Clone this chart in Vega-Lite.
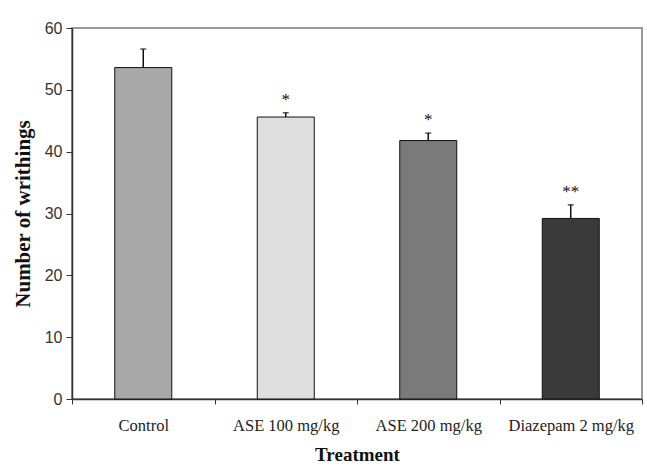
{
  "$schema": "https://vega.github.io/schema/vega-lite/v6.json",
  "autosize": "none",
  "padding": {"left": 72, "top": 28, "right": 5, "bottom": 73},
  "width": 570,
  "height": 371,
  "background": "white",
  "config": {
    "view": {"stroke": "#9a9a9a", "strokeWidth": 2},
    "axis": {"grid": false}
  },
  "data": {
    "values": [
      {"Treatment": "Control", "mean": 53.6, "upper": 56.6, "sig": ""},
      {"Treatment": "ASE 100 mg/kg", "mean": 45.6, "upper": 46.3, "sig": "*"},
      {"Treatment": "ASE 200 mg/kg", "mean": 41.8, "upper": 43.0, "sig": "*"},
      {"Treatment": "Diazepam 2 mg/kg", "mean": 29.2, "upper": 31.4, "sig": "**"}
    ]
  },
  "encoding": {
    "x": {
      "field": "Treatment",
      "type": "nominal",
      "sort": null,
      "scale": {"type": "band", "paddingInner": 0, "paddingOuter": 0},
      "axis": {
        "title": "Treatment",
        "labelAngle": 0,
        "tickBand": "extent",
        "tickSize": 5,
        "tickColor": "#333",
        "domainColor": "#333",
        "domainWidth": 1.5,
        "labelFont": "Liberation Serif",
        "labelFontSize": 16.5,
        "labelColor": "#222",
        "labelPadding": 13,
        "titleFont": "Liberation Serif",
        "titleFontSize": 19,
        "titleFontWeight": "bold",
        "titleColor": "#111",
        "titlePadding": 12
      }
    }
  },
  "layer": [
    {
      "mark": {"type": "bar", "size": 57, "stroke": "#111", "strokeWidth": 1},
      "encoding": {
        "y": {
          "field": "mean",
          "type": "quantitative",
          "scale": {"domain": [0, 60]},
          "axis": {
            "title": "Number of writhings",
            "values": [0, 10, 20, 30, 40, 50, 60],
            "tickSize": 6,
            "tickColor": "#333",
            "domainColor": "#333",
            "domainWidth": 1.5,
            "labelFont": "Liberation Sans",
            "labelFontSize": 16,
            "labelColor": "#333",
            "labelPadding": 4,
            "titleFont": "Liberation Serif",
            "titleFontSize": 21,
            "titleFontWeight": "bold",
            "titleColor": "#111",
            "titlePadding": 11
          }
        },
        "fill": {
          "field": "Treatment",
          "type": "nominal",
          "sort": null,
          "scale": {"range": ["#a8a8a8", "#dedede", "#7a7a7a", "#3a3a3a"]},
          "legend": null
        }
      }
    },
    {
      "mark": {"type": "rule", "color": "#111", "strokeWidth": 1.5},
      "encoding": {
        "y": {"field": "mean", "type": "quantitative"},
        "y2": {"field": "upper"}
      }
    },
    {
      "mark": {"type": "tick", "color": "#111", "size": 6, "thickness": 1.5},
      "encoding": {
        "y": {"field": "upper", "type": "quantitative"}
      }
    },
    {
      "mark": {"type": "text", "font": "Liberation Serif", "fontSize": 17, "color": "#111", "baseline": "alphabetic", "dy": -8},
      "encoding": {
        "y": {"field": "upper", "type": "quantitative"},
        "text": {"field": "sig"}
      }
    }
  ]
}
